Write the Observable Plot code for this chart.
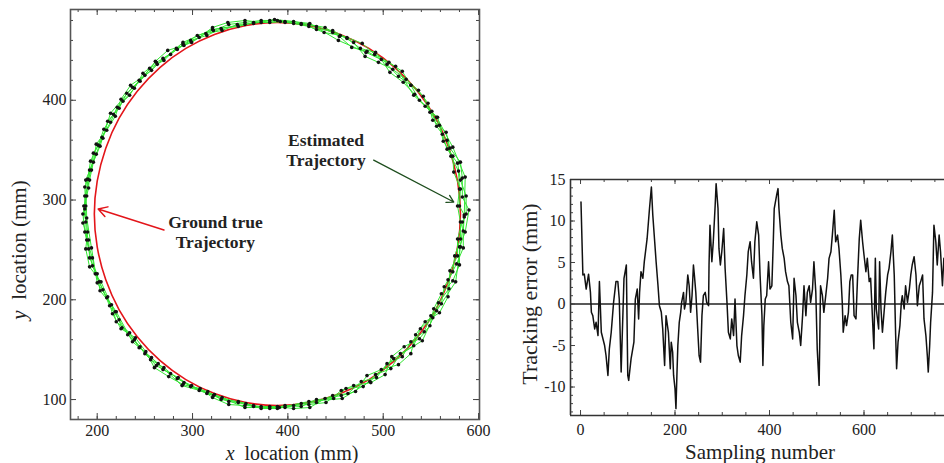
<!DOCTYPE html>
<html><head><meta charset="utf-8">
<script src="https://cdn.jsdelivr.net/npm/d3@7"></script>
<script src="https://cdn.jsdelivr.net/npm/@observablehq/plot@0.6"></script>
<style>
html,body{margin:0;padding:0;background:#fff;overflow:hidden;width:944px;height:463px}
#wrap{position:relative;width:944px;height:463px;overflow:hidden;font-family:"Liberation Serif",serif;color:#222}
.panel{position:absolute;top:0}
.ttl{position:absolute;white-space:nowrap;line-height:1;transform:translate(-50%,-50%)}
.rot{transform:translate(-50%,-50%) rotate(-90deg)}
</style></head><body><div id="wrap"></div>
<script>
const truthX = [581,578,569,555,536,512,485,455,422,389,356,323,293,266,242,223,209,200,197,200,209,223,242,266,293,323,356,389,422,455,485,512,536,555,569,578];
const truthY = [286,319,352,382,409,433,452,466,475,478,475,466,452,433,409,382,352,319,286,253,220,190,163,139,120,106,97,94,97,106,120,139,163,190,220,253];
// ---- Estimated trajectory, lap by lap
const lap1X = [587,587,581,578,567,562,557,544,533,521,507,498,483,467,454,439,422,406,389,372,355,338,322,305,290,277,262,248,239,227,217,207,201,193,190,189,185,187,191,195,202,210,219,226,239,250,262,277,291,307,322,338,356,372,389,406,422,440,456,469,487,502,509,522,538,549,553,561,573,580,580,586];
const lap1Y = [286,304,320,337,351,366,383,394,406,418,428,441,449,453,464,473,476,479,480,480,478,476,470,465,456,446,438,427,412,399,386,371,355,339,321,304,286,268,251,234,218,202,188,172,160,146,134,126,117,109,104,98,96,91,91,94,95,97,109,114,117,125,143,153,161,174,191,206,219,235,253,268];
const lap2X = [590,583,583,581,570,566,552,547,537,524,510,495,481,469,455,438,422,406,392,372,355,337,321,307,291,274,261,250,235,225,219,210,199,196,192,187,187,190,188,192,204,211,216,225,240,251,260,275,290,308,321,338,355,372,389,406,423,439,456,471,483,498,516,529,534,544,559,568,568,577,584,584];
const lap2Y = [290,303,322,338,352,368,380,397,410,421,431,438,444,458,465,468,474,477,479,478,480,478,473,463,455,450,439,425,415,401,384,370,356,338,320,304,291,268,251,233,218,203,186,171,162,148,132,123,115,111,102,95,94,93,93,91,92,101,104,108,124,130,135,146,165,178,187,203,220,236,252,269];
const lap3X = [585,586,573,556,532,513,482,453,423,386,355,321,290,263,237,214,203,188,189,194,200,220,237,264,289,323,355,391,422,457,486,511,541,556,576,581,585];
const lap3Y = [283,323,353,383,405,434,448,460,477,481,476,471,458,436,413,387,354,320,282,252,217,188,158,136,114,105,92,92,98,101,118,141,159,189,218,253,285];
const lap4X = [580,581,574,573,563,559,549,542,529,520,506,491,478,462,447,430,414,397,381,364,348,330,315,298,284,269,257,244,234,221,214,205,199,192,191,186,188,189,195,198,206,213,223,232,245,256,270,284,299,315,331,348,364,381,397,414,430,447,463,477,493,504,520,529,543,550,561,564,573,575,581,581];
const lap4Y = [294,311,328,344,359,375,388,404,415,429,438,446,457,463,468,474,476,479,478,478,474,472,465,460,451,442,430,420,405,393,378,363,346,330,312,294,278,260,242,226,210,194,180,165,153,140,132,121,114,106,102,97,93,93,92,96,97,104,106,118,122,136,143,158,168,184,196,213,228,244,261,278];
const lap5X = [578,580,579,571,567,556,551,538,529,516,504,492,476,462,447,430,414,397,381,364,347,331,314,299,283,270,255,245,231,223,211,206,196,194,187,188,185,191,192,200,203,215,220,234,244,257,269,285,298,316,330,348,364,381,397,414,430,448,461,479,492,508,518,532,539,552,558,569,570,578,578,583];
const lap5Y = [294,311,329,344,360,374,389,400,415,424,436,448,452,462,470,471,477,478,480,477,476,470,467,458,452,440,432,419,407,392,379,362,347,330,313,294,277,260,242,226,209,195,178,167,152,142,130,122,113,108,100,98,94,91,94,93,100,101,111,113,125,131,146,154,171,182,197,211,229,244,261,278];
const leftXTicks = [200,300,400,500,600];
const leftYTicks = [100,200,300,400];
const annoText = [
  {x:440, y:360, text:"Estimated"},
  {x:440, y:340, text:"Trajectory"},
  {x:324, y:278, text:"Ground true"},
  {x:324, y:258, text:"Trajectory"}
];
const estArrow = [{x1:490, y1:340, x2:574, y2:298}];
const truthArrow = [{x1:270, y1:270, x2:201, y2:291}];

// ---- Right panel: tracking error
const errSample = [1,5,8,12,17,21,23,26,30,33,37,40,44,51,54,58,61,65,70,75,79,82,86,92,97,100,102,107,113,116,120,123,125,128,132,135,141,146,150,153,157,160,164,167,171,174,178,181,186,
190,192,195,197,200,202,204,206,209,212,214,218,220,223,227,230,233,236,239,241,244,248,251,254,257,260,264,267,271,272,274,278,281,285,287,291,293,296,299,303,306,310,313,317,320,324,327,331,334,338,341,345,348,352,355,359,362,366,369,373,377,380,384,
386,388,391,394,398,401,405,408,410,415,418,420,424,427,431,434,438,441,445,449,452,456,459,463,466,470,473,477,480,484,487,491,494,498,501,505,508,512,515,519,523,526,530,533,537,540,544,547,551,554,556,560,563,567,570,573,
576,579,583,586,590,593,597,600,604,607,611,614,618,621,624,626,631,633,636,639,643,646,650,653,657,660,664,667,669,672,676,679,681,685,688,692,696,699,702,706,710,713,717,720,724,727,731,734,736,739,741,745,748,752,755,759,762,766,769,774,778];
const errValue = [12.3,3.5,3.6,1.8,3.6,1.4,-1.0,-1.4,-3.0,-2.2,-3.8,2.7,-3.4,-5.0,-6.2,-8.6,-5.4,-3.4,0.2,2.7,2.7,0.6,-8.2,3.1,4.7,-8.6,-9.2,-6.6,-4.6,0.6,1.8,-1.8,1.4,3.9,3.1,5.1,7.9,11.5,14.1,10.7,7.5,5.1,2.2,-0.2,-1.0,-3.0,-7.4,-1.4,-3.4,
-7.8,-4.6,-5.8,-8.6,-10.2,-12.6,-8.6,-5.0,-2.2,-1.0,0.2,1.4,-0.6,0.2,3.5,2.2,-1.0,1.0,4.7,3.5,1.4,-3.0,-6.2,-7.0,-1.4,1.0,1.4,0.2,-0.2,4.7,9.5,5.1,7.5,11.9,14.5,11.5,6.7,4.7,6.3,9.1,4.3,0.2,-3.4,-4.2,-1.8,-3.8,0.6,-5.0,-6.2,-7.0,-3.8,-1.4,1.0,3.5,6.3,7.5,5.1,3.1,7.5,9.9,8.3,3.5,-1.4,
-7.4,-2.6,0.6,1.0,5.1,1.8,2.2,7.5,11.5,13.1,13.9,11.5,8.3,6.7,5.5,3.9,2.7,2.2,-2.2,-4.2,3.1,1.0,-2.2,-3.4,-5.0,-1.4,2.2,-1.4,1.4,2.2,0.2,1.8,5.1,1.4,-5.4,-9.8,2.2,1.0,-1.0,1.0,3.1,5.5,6.3,8.3,11.3,7.5,8.3,6.7,3.5,0.2,-3.4,-1.4,-2.6,-1.0,2.7,3.5,
3.5,-1.4,-1.8,2.7,7.9,10.1,7.5,5.9,3.9,5.5,2.7,3.1,-1.8,-5.4,5.5,-0.6,-3.0,5.1,-0.6,-3.4,-0.6,1.4,3.5,4.3,6.3,8.3,3.5,-3.8,-7.8,-4.6,-2.6,0.2,1.0,-0.6,2.2,0.2,1.8,3.5,4.7,5.7,3.5,-0.2,2.2,2.7,3.5,-1.8,-3.8,-6.2,-8.2,-5.0,-2.2,1.4,9.5,7.5,4.7,8.3,6.3,2.2,5.5,4.0,6.5];
const rightXTicks = [0,200,400,600];
const rightYTicks = [-10,-5,0,5,10,15];

// ---- helpers
const FONT = '"Liberation Serif", "Times New Roman", serif';
function inTicks(vals, dim, side, len, span, opts = {}) {
  const o = {stroke:"#444", strokeWidth:1, ...opts};
  if (dim === "x") return Plot.tickX(vals, {x: d => d, insetTop: side === "bottom" ? span - len : 0, insetBottom: side === "top" ? span - len : 0, ...o});
  return Plot.tickY(vals, {y: d => d, insetRight: side === "left" ? span - len : 0, insetLeft: side === "right" ? span - len : 0, ...o});
}
const pts = (xs, ys) => xs.map((x, i) => ({x, y: ys[i]}));

const wrap = document.getElementById("wrap");

// LEFT
const L = {w:490, h:463, ml:70, mr:11, mt:9, mb:44};
const LW = L.w - L.ml - L.mr, LH = L.h - L.mt - L.mb;
const truth = pts(truthX, truthY);
const est = [...pts(lap1X, lap1Y), ...pts(lap2X, lap2Y), ...pts(lap3X, lap3Y), ...pts(lap4X, lap4Y), ...pts(lap5X, lap5Y)];
const lxMinor = d3.range(180, 601, 20), lyMinor = d3.range(80, 491, 20);
const left = Plot.plot({
  width: L.w, height: L.h, marginLeft: L.ml, marginRight: L.mr, marginTop: L.mt, marginBottom: L.mb,
  x: {domain: [172, 601]}, y: {domain: [80, 491]},
  style: {fontFamily: FONT, fontSize: "16px", color: "#222", background: "transparent", overflow: "visible"},
  marks: [
    Plot.line(truth, {x: "x", y: "y", curve: "catmull-rom-closed", stroke: "#e3151a", strokeWidth: 1.6}),
    Plot.line(est, {x: "x", y: "y", stroke: "#33e633", strokeWidth: 1}),
    Plot.dot(est, {x: "x", y: "y", r: 1.8, fill: "#111", stroke: "none"}),
    Plot.text(annoText, {x: "x", y: "y", text: "text", fontWeight: "bold", fontSize: 17.5, fill: "#222"}),
    Plot.arrow(estArrow, {x1: "x1", y1: "y1", x2: "x2", y2: "y2", stroke: "#1d4d1d", strokeWidth: 1.3, headLength: 9}),
    Plot.arrow(truthArrow, {x1: "x1", y1: "y1", x2: "x2", y2: "y2", stroke: "#e3151a", strokeWidth: 1.5, headLength: 10}),
    inTicks(lxMinor, "x", "bottom", 3, LH), inTicks(lxMinor, "x", "top", 3, LH),
    inTicks(leftXTicks, "x", "bottom", 6, LH), inTicks(leftXTicks, "x", "top", 6, LH),
    inTicks(lyMinor, "y", "left", 3, LW), inTicks(lyMinor, "y", "right", 3, LW),
    inTicks(leftYTicks, "y", "left", 6, LW), inTicks(leftYTicks, "y", "right", 6, LW),
    Plot.frame({stroke: "#555", strokeWidth: 1.6}),
    Plot.axisX(leftXTicks, {anchor: "bottom", tickSize: 0, tickPadding: 5, label: null, fontSize: 16}),
    Plot.axisY(leftYTicks, {anchor: "left", tickSize: 0, tickPadding: 4, label: null, fontSize: 16})
  ]
});
left.classList.add("panel");
left.style.left = "0px";
wrap.appendChild(left);

// RIGHT
const R = {x0: 480, w:488, h:463, ml:90, mr:10, mt:179, mb:48};
const RW = R.w - R.ml - R.mr, RH = R.h - R.mt - R.mb;
const err = errSample.map((s, i) => ({s, v: errValue[i]}));
const rxMinor = d3.range(0, 801, 50), ryMinor = d3.range(-13, 16, 1);
const right = Plot.plot({
  width: R.w, height: R.h, marginLeft: R.ml, marginRight: R.mr, marginTop: R.mt, marginBottom: R.mb,
  x: {domain: [-21.2, 800]}, y: {domain: [-13.43, 15]},
  style: {fontFamily: FONT, fontSize: "16px", color: "#222", background: "transparent", overflow: "visible"},
  marks: [
    Plot.ruleY([0], {stroke: "#222", strokeWidth: 1.4}),
    Plot.line(err, {x: "s", y: "v", stroke: "#111", strokeWidth: 1.5}),
    inTicks(rxMinor, "x", "bottom", 3, RH), inTicks(rxMinor, "x", "top", 3, RH),
    inTicks(rightXTicks, "x", "bottom", 5, RH), inTicks(rightXTicks, "x", "top", 5, RH),
    inTicks(ryMinor, "y", "left", 3, RW),
    inTicks(rightYTicks, "y", "left", 5, RW),
    Plot.ruleY([15], {stroke: "#333", strokeWidth: 1.6}),
    Plot.ruleY([-13.43], {stroke: "#333", strokeWidth: 1.6}),
    Plot.ruleX([-21.2], {stroke: "#333", strokeWidth: 1.6}),
    Plot.axisX(rightXTicks, {anchor: "bottom", tickSize: 0, tickPadding: 8, label: null, fontSize: 16}),
    Plot.axisY(rightYTicks, {anchor: "left", tickSize: 0, tickPadding: 5, label: null, fontSize: 16, tickFormat: d => String(d)})
  ]
});
right.classList.add("panel");
right.style.left = R.x0 + "px";
wrap.appendChild(right);

// Titles
function title(html, x, y, rot, size) {
  const d = document.createElement("div");
  d.className = "ttl" + (rot ? " rot" : "");
  d.innerHTML = html;
  d.style.left = x + "px"; d.style.top = y + "px"; d.style.fontSize = size + "px";
  wrap.appendChild(d);
}
title("<i>x</i>&nbsp; location (mm)", 292, 453, false, 20);
title("<i>y</i>&nbsp; location (mm)", 19, 250, true, 21);
title("Tracking error (mm)", 530, 294, true, 22);
title("Sampling number", 760, 452, false, 21);
</script>
</body></html>
